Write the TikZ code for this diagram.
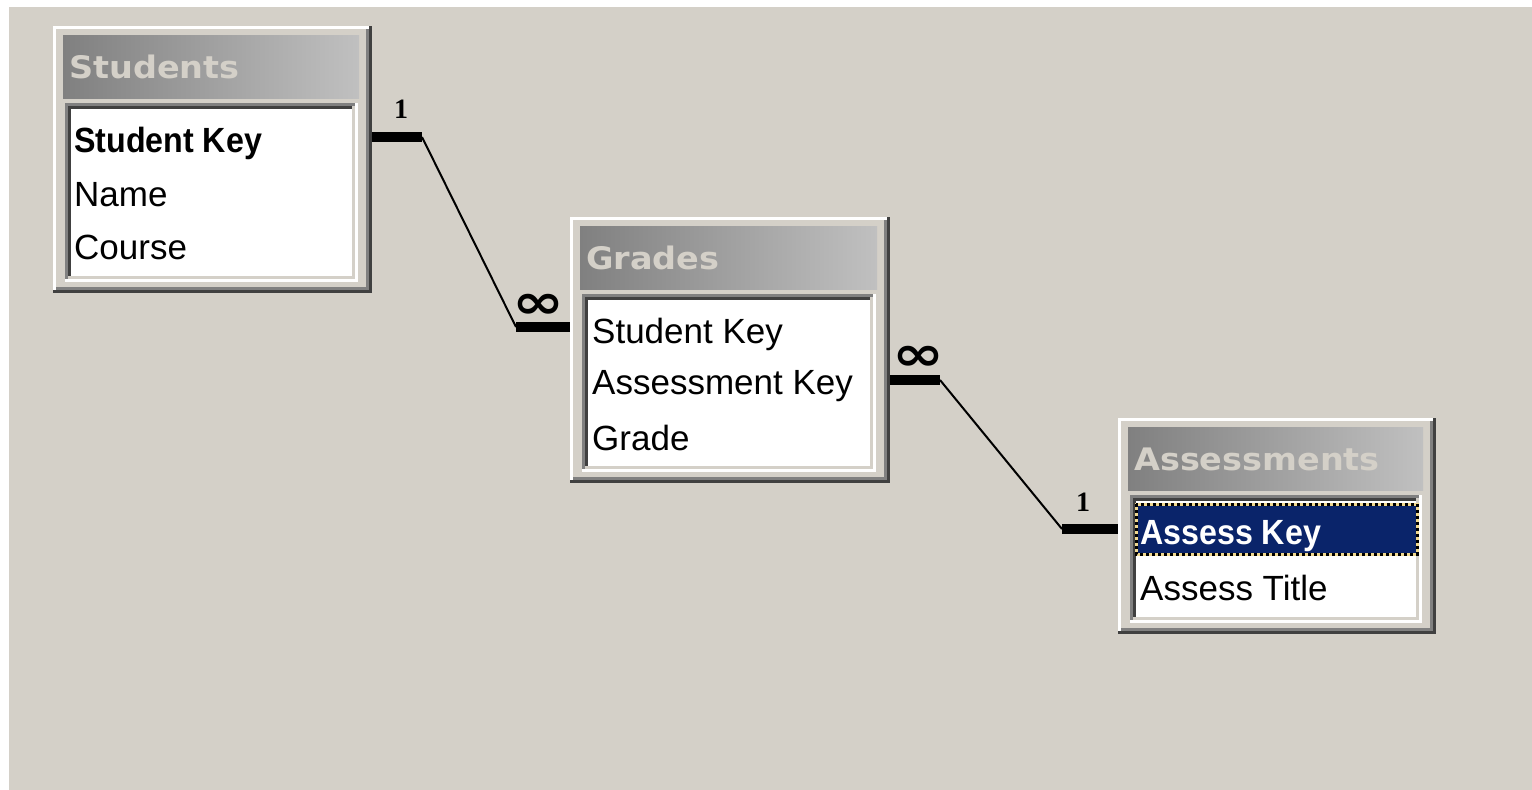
\documentclass[tikz,border=0pt]{standalone}
\usepackage{fontspec}
\setmainfont{Liberation Sans}
\newfontfamily\titlefont{DejaVu Sans}
\newfontfamily\digitfont{Liberation Serif}
\definecolor{winbg}{HTML}{D4D0C8}
\definecolor{selnavy}{HTML}{0A246A}
\definecolor{dkgray}{HTML}{404040}
\definecolor{midgray}{HTML}{808080}
\definecolor{ltgray}{HTML}{C0C0C0}
\definecolor{focusy}{HTML}{F0D890}
\tikzset{
  rowtext/.style={anchor=west, inner sep=0pt, font=\fontsize{35}{35}\selectfont},
  keytext/.style={anchor=west, inner sep=0pt, xscale=0.92, font=\fontsize{35}{35}\selectfont\bfseries},
  titletext/.style={anchor=west, inner sep=0pt, xscale=1.08, text=winbg, font=\titlefont\fontsize{31}{31}\selectfont\bfseries},
  framebox/.style={inner sep=0pt, draw=none, rectangle},
  stub/.style={line width=10pt, black},
  rel/.style={line width=2pt, black},
  onelabel/.style={inner sep=0pt, font=\digitfont\fontsize{28}{28}\selectfont\bfseries},
  manylabel/.style={inner sep=0pt, xscale=1.3, font=\titlefont\fontsize{48}{48}\selectfont\bfseries},
}
% #1 name, #2 left, #3 top, #4 right, #5 bottom, #6 title
\newcommand\dbtable[6]{%
  \node[framebox, minimum width={(#4-#2)*1pt}, minimum height={(#5-#3)*1pt}] (#1) at ({(#2+#4)/2},{(#3+#5)/2}) {};
  \draw[white, line width=3pt] (#2+1.5,#5) -- (#2+1.5,#3+1.5) -- (#4,#3+1.5);
  \draw[dkgray, line width=3pt] (#2,#5-1.5) -- (#4-1.5,#5-1.5) -- (#4-1.5,#3);
  \draw[midgray, line width=3pt] (#2+3,#5-4.5) -- (#4-4.5,#5-4.5) -- (#4-4.5,#3+3);
  \shade[left color=midgray, right color=ltgray] (#2+10,#3+9) rectangle (#4-13,#3+72);
  \node[titletext] (#1-title) at (#2+16,#3+41) {#6};
  \fill[white] (#2+12,#3+77) rectangle (#4-14,#5-11);
  \draw[midgray, line width=3pt] (#2+13.5,#5-11) -- (#2+13.5,#3+78.5) -- (#4-14,#3+78.5);
  \draw[dkgray, line width=3pt] (#2+16.5,#5-14) -- (#2+16.5,#3+81.5) -- (#4-17,#3+81.5);
  \draw[white, line width=3pt] (#2+12,#5-12.5) -- (#4-15.5,#5-12.5) -- (#4-15.5,#3+77);
  \draw[winbg, line width=3pt] (#2+15,#5-15.5) -- (#4-18.5,#5-15.5) -- (#4-18.5,#3+80);
}
\begin{document}
\begin{tikzpicture}[x=1pt,y=-1pt]
\useasboundingbox (0,0) rectangle (1532,790);
\fill[white] (0,0) rectangle (1532,790);
\fill[winbg] (9,7) rectangle (1532,790);

% Students
\dbtable{students}{53}{26}{372}{293}{Students}
\node[keytext] (students-r1) at (74,143) {Student Key};
\node[rowtext] (students-r2) at (74,195) {Name};
\node[rowtext] (students-r3) at (74,247) {Course};

% Grades
\dbtable{grades}{570}{217}{890}{483}{Grades}
\node[rowtext] (grades-r1) at (592,334) {Student Key};
\node[rowtext] (grades-r2) at (592,386) {Assessment Key};
\node[rowtext] (grades-r3) at (592,438) {Grade};

% Assessments
\dbtable{assess}{1118}{418}{1436}{634}{Assessments}
\fill[selnavy] (1135,503) rectangle (1418,555);
\draw[focusy, line width=3pt] (1136,504) rectangle (1417,554);
\draw[black, line width=3pt, dash pattern=on 3pt off 3pt] (1136,504) rectangle (1417,554);
\node[keytext, text=white] (assess-r1) at (1140,536) {Assess Key};
\node[rowtext] (assess-r2) at (1140,588) {Assess Title};

% Relationship Students -> Grades
\coordinate (r1a) at (students.east |- 0,137);
\coordinate (r1b) at (422,137);
\coordinate (r1c) at (516,327);
\coordinate (r1d) at (grades.west |- 0,327);
\draw[stub] (r1a) -- (r1b);
\draw[rel] (r1b) -- (r1c);
\draw[stub] (r1c) -- (r1d);
\node[onelabel] (r1one) at (401,109) {1};
\node[manylabel] (r1many) at (538,306) {∞};

% Relationship Grades -> Assessments
\coordinate (r2a) at (grades.east |- 0,380);
\coordinate (r2b) at (940,380);
\coordinate (r2c) at (1062,529);
\coordinate (r2d) at (assess.west |- 0,529);
\draw[stub] (r2a) -- (r2b);
\draw[rel] (r2b) -- (r2c);
\draw[stub] (r2c) -- (r2d);
\node[manylabel] (r2many) at (918,358) {∞};
\node[onelabel] (r2one) at (1083,502) {1};
\end{tikzpicture}
\end{document}
